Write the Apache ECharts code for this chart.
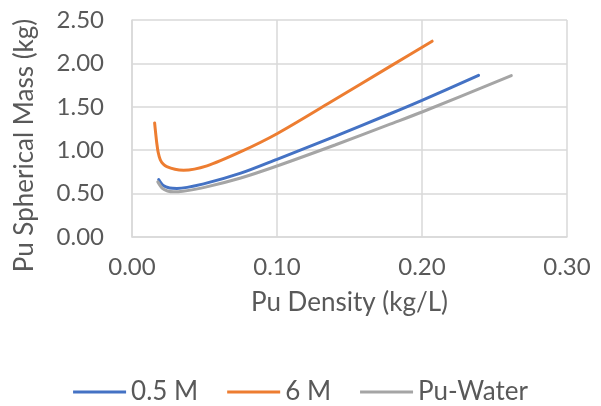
<!DOCTYPE html>
<html><head><meta charset="utf-8">
<script src="https://cdn.jsdelivr.net/npm/echarts@6/dist/echarts.min.js"></script>
<style>html,body{margin:0;padding:0;background:#fff}#c{width:601px;height:406px}</style>
</head><body><div id="c"></div>
<script>
const seriesNames = ['0.5 M', '6 M', 'Pu-Water'];
const xTicks = [0, 0.1, 0.2, 0.3];
const yTicks = [0, 0.5, 1.0, 1.5, 2.0, 2.5];
const m05 = [[0.0184,0.663],[0.0215,0.595],[0.026,0.565],[0.031,0.56],[0.05,0.615],[0.075,0.735],[0.1,0.895],[0.14,1.16],[0.178,1.42],[0.2,1.575],[0.239,1.862]];
const m6 = [[0.0156,1.314],[0.0163,1.2],[0.0171,1.08],[0.018,0.98],[0.0195,0.89],[0.0215,0.84],[0.024,0.81],[0.0296,0.78],[0.0356,0.77],[0.0517,0.82],[0.0747,0.98],[0.1,1.19],[0.137,1.555],[0.178,1.966],[0.207,2.256]];
const puWater = [[0.0178,0.635],[0.021,0.56],[0.0245,0.53],[0.0287,0.52],[0.035,0.527],[0.05,0.572],[0.075,0.68],[0.1,0.818],[0.14,1.06],[0.178,1.30],[0.2,1.44],[0.2616,1.86]];
const colors = ['#4472C4','#ED7D31','#A5A5A5'];
const font = 'Lato';
const txt = '#595959';
const chart = echarts.init(document.getElementById('c'));
const mk = (name, data, color) => ({name, type:'line', data, smooth:0.3, showSymbol:false,
  lineStyle:{width:3, color, cap:'round'}, itemStyle:{color}});
chart.setOption({
  animation:false,
  textStyle:{fontFamily:font},
  grid:{left:132, right:34, top:20, bottom:169},
  legend:{top:374, left:'center', icon:'rect', itemWidth:53, itemHeight:3, itemGap:29,
    textStyle:{fontFamily:font, fontSize:26, color:txt}, data:seriesNames},
  xAxis:{type:'value', min:xTicks[0], max:xTicks[xTicks.length-1], interval:xTicks[1]-xTicks[0],
    name:'Pu Density (kg/L)', nameLocation:'middle', nameGap:53,
    nameTextStyle:{fontFamily:font, fontSize:26, color:txt},
    axisLine:{lineStyle:{color:'#d9d9d9', width:1.5}}, axisTick:{show:false},
    axisLabel:{formatter:v=>v.toFixed(2), fontSize:24, color:txt, margin:18},
    splitLine:{lineStyle:{color:'#d9d9d9', width:1.5}}},
  yAxis:{type:'value', min:yTicks[0], max:yTicks[yTicks.length-1], interval:yTicks[1]-yTicks[0],
    name:'Pu Spherical Mass (kg)', nameLocation:'middle', nameGap:94,
    nameTextStyle:{fontFamily:font, fontSize:26, color:txt, padding:[0,34,0,0]},
    axisLine:{show:true, lineStyle:{color:'#d9d9d9', width:1.5}}, axisTick:{show:false},
    axisLabel:{formatter:v=>v.toFixed(2), fontSize:24, color:txt, margin:28},
    splitLine:{lineStyle:{color:'#d9d9d9', width:1.5}}},
  series:[mk(seriesNames[0], m05, colors[0]), mk(seriesNames[1], m6, colors[1]), mk(seriesNames[2], puWater, colors[2])]
});
</script></body></html>
